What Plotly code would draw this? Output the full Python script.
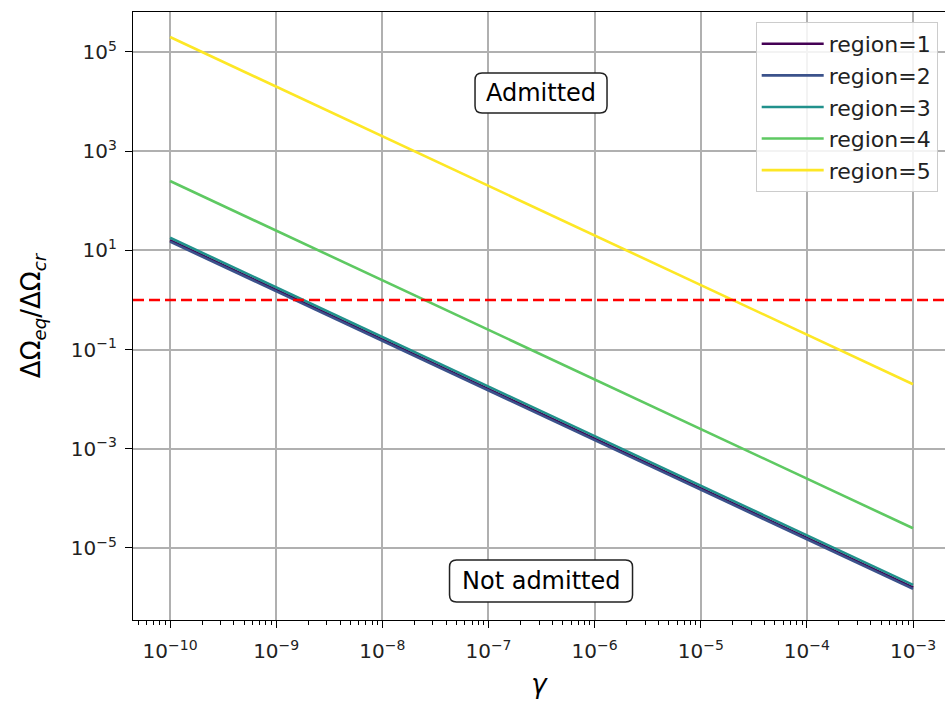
import plotly.graph_objects as go

# ---- data ----
gamma = [1e-10, 1e-9, 1e-8, 1e-7, 1e-6, 1e-5, 1e-4, 1e-3]
region_1 = [16, 1.6, 0.16, 1.6e-2, 1.6e-3, 1.6e-4, 1.6e-5, 1.6e-6]
region_2 = [15, 1.5, 0.15, 1.5e-2, 1.5e-3, 1.5e-4, 1.5e-5, 1.5e-6]
region_3 = [18, 1.8, 0.18, 1.8e-2, 1.8e-3, 1.8e-4, 1.8e-5, 1.8e-6]
region_4 = [250, 25, 2.5, 0.25, 2.5e-2, 2.5e-3, 2.5e-4, 2.5e-5]
region_5 = [2e5, 2e4, 2e3, 200, 20, 2, 0.2, 2e-2]
series = [region_1, region_2, region_3, region_4, region_5]
names = ["region=1", "region=2", "region=3", "region=4", "region=5"]
colors = ["#440154", "#3b528b", "#21918c", "#5ec962", "#fde725"]
threshold = 1.0

x_exps = [-10, -9, -8, -7, -6, -5, -4, -3]
y_exps = [-5, -3, -1, 1, 3, 5]

def pow_label(e):
    s = str(e).replace("-", "\u2212")
    return "10<sup>" + s + "</sup>"

FONT = "DejaVu Sans"

fig = go.Figure()
for vals, nm, col in zip(series, names, colors):
    fig.add_trace(go.Scatter(x=gamma, y=vals, mode="lines", name=nm,
                             legendgroup=nm,
                             line=dict(color=col, width=2.6)))

fig.add_hline(y=threshold, line=dict(color="red", width=2.6, dash="11px,5px"))

# annotations with rounded boxes
def rounded_path(w, h, r):
    a, b = w / 2, h / 2
    return (f"M {-a+r},{-b} L {a-r},{-b} Q {a},{-b} {a},{-b+r} "
            f"L {a},{b-r} Q {a},{b} {a-r},{b} L {-a+r},{b} Q {-a},{b} {-a},{b-r} "
            f"L {-a},{-b+r} Q {-a},{-b} {-a+r},{-b} Z")

labels = [("Admitted", 0.5025, 0.8668, 132, 40),
          ("Not admitted", 0.5025, 0.0641, 183, 42)]
for txt, px, py, w, h in labels:
    fig.add_shape(type="path", xref="paper", yref="paper",
                  xsizemode="pixel", ysizemode="pixel",
                  xanchor=px, yanchor=py, path=rounded_path(w, h, 7),
                  line=dict(color="#222222", width=1.5), fillcolor="white",
                  layer="above")
    fig.add_annotation(x=px, y=py, xref="paper", yref="paper", text=txt,
                       showarrow=False, font=dict(family=FONT, size=24, color="black"),
                       xanchor="center", yanchor="middle")

minor_x = [k * 10.0 ** e for e in range(-11, -2) for k in range(2, 10)]

fig.update_xaxes(type="log", range=[-10.349, -2.699],
                 tickvals=[10.0 ** e for e in x_exps],
                 ticktext=[pow_label(e) for e in x_exps],
                 ticks="outside", ticklen=7, tickwidth=1.3, tickcolor="black",
                 ticklabelstandoff=6,
                 showgrid=True, gridcolor="#b0b0b0", gridwidth=1.5,
                 showline=True, linecolor="black", linewidth=1.3, mirror=True,
                 minor=dict(tickvals=minor_x, ticks="outside", ticklen=4,
                            tickwidth=1, tickcolor="black", showgrid=False),
                 tickfont=dict(family=FONT, size=20, color="#222222"),
                 title=dict(text="<i>γ</i>", font=dict(family=FONT, size=26, color="black"),
                            standoff=12),
                 zeroline=False)
fig.update_yaxes(type="log", range=[-6.452, 5.806],
                 tickvals=[10.0 ** e for e in y_exps],
                 ticktext=[pow_label(e) for e in y_exps],
                 ticks="outside", ticklen=7, tickwidth=1.3, tickcolor="black",
                 ticklabelstandoff=4,
                 showgrid=True, gridcolor="#b0b0b0", gridwidth=1.5,
                 showline=True, linecolor="black", linewidth=1.3, mirror=False,
                 tickfont=dict(family=FONT, size=20, color="#222222"),
                 title=dict(text="ΔΩ<sub><i>eq</i></sub>/ΔΩ<sub><i>cr</i></sub>",
                            font=dict(family=FONT, size=26, color="black"),
                            standoff=22),
                 zeroline=False)

fig.update_layout(
    width=945, height=701,
    margin=dict(l=133, r=0, t=12, b=81),
    plot_bgcolor="white", paper_bgcolor="white",
    font=dict(family=FONT),
    legend=dict(x=0.991, y=0.9836, xanchor="right", yanchor="top",
                bgcolor="rgba(255,255,255,0.85)", bordercolor="#cccccc",
                borderwidth=1, font=dict(family=FONT, size=22, color="#222222"),
                tracegroupgap=8, traceorder="normal", itemwidth=62),
    showlegend=True,
)

fig.write_html("out.html")
